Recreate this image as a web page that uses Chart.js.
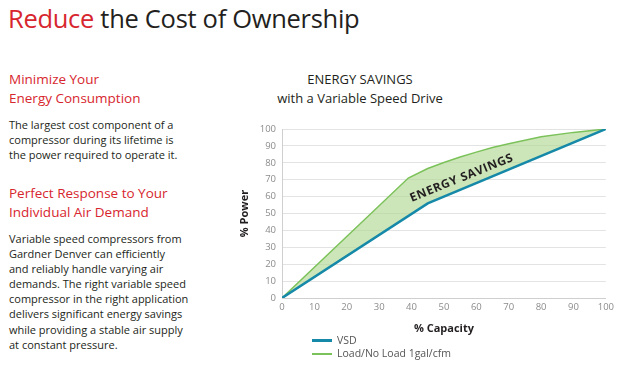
<!DOCTYPE html>
<html>
<head>
<meta charset="utf-8">
<script src="https://cdn.jsdelivr.net/npm/chart.js@4"></script>
<style>
  html, body { margin: 0; padding: 0; background: #fff; }
  body { width: 624px; height: 367px; position: relative; overflow: hidden; font-family: "Open Sans", sans-serif; color: #231f20; }
  .titulo { position: absolute; left: 8px; top: 1px; font-size: 25.5px; font-weight: 400; letter-spacing: -0.3px; white-space: nowrap; }
  .rojo { color: #d7262e; }
  .sub { position: absolute; left: 9px; font-size: 13.5px; line-height: 18.5px; color: #d7262e; white-space: nowrap; }
  .cuerpo { position: absolute; left: 9px; font-size: 11px; line-height: 15.1px; color: #231f20; white-space: nowrap; }
  .chart-titulo { position: absolute; left: 230px; width: 260px; top: 70px; text-align: center; font-size: 13px; line-height: 19px; color: #231f20; }
  #cajaGrafica { position: absolute; left: 228px; top: 115px; width: 390px; height: 220px; }
  .leyenda { position: absolute; left: 312px; top: 334px; font-size: 10.5px; color: #555; }
  .leyenda div { height: 13px; line-height: 13px; display: flex; align-items: center; }
  .leyenda span.linea { display: inline-block; width: 20px; margin-right: 5px; }
</style>
</head>
<body>
<div class="titulo"><span class="rojo">Reduce</span> the Cost of Ownership</div>

<div class="sub" style="top:70px">Minimize Your<br>Energy Consumption</div>
<div class="cuerpo" style="top:117px">The largest cost component of a<br>compressor during its lifetime is<br>the power required to operate it.</div>

<div class="sub" style="top:184px">Perfect Response to Your<br>Individual Air Demand</div>
<div class="cuerpo" style="top:231px">Variable speed compressors from<br>Gardner Denver can efficiently<br>and reliably handle varying air<br>demands. The right variable speed<br>compressor in the right application<br>delivers significant energy savings<br>while providing a stable air supply<br>at constant pressure.</div>

<div class="chart-titulo">ENERGY SAVINGS<br>with a Variable Speed Drive</div>

<div id="cajaGrafica"><canvas id="graficaAhorro"></canvas></div>
<div class="leyenda" id="leyenda"></div>

<script>
// datos
const ticksCapacidad = [0, 10, 20, 30, 40, 50, 60, 70, 80, 90, 100];
const ticksPotencia = [0, 10, 20, 30, 40, 50, 60, 70, 80, 90, 100];

const vsdCapacidad = [0, 45, 100];
const vsdPotencia = [0, 56, 100];

const cargaCapacidad = [0, 39, 45, 50, 55, 60, 65, 70, 80, 90, 100];
const cargaPotencia = [0, 71, 76.6, 80.2, 83.4, 86.3, 89, 91.3, 95.4, 98, 100];

const etiquetas = ['VSD', 'Load/No Load 1gal/cfm'];
const colores = ['#1689a8', '#7cc25a'];
const relleno = 'rgba(176, 216, 148, 0.65)';

const colorTicks = '#8c8c8c';

// etiqueta "ENERGY SAVINGS" dentro de la zona sombreada
const etiquetaAhorro = {
    id: 'etiquetaAhorro',
    afterDatasetsDraw(chart) {
        const ctx = chart.ctx;
        const x = chart.scales.x.getPixelForValue(55.5);
        const y = chart.scales.y.getPixelForValue(71);
        ctx.save();
        ctx.translate(x, y);
        ctx.rotate(-22 * Math.PI / 180);
        ctx.font = 'bold 12px "Open Sans"';
        ctx.fillStyle = '#231f20';
        ctx.textAlign = 'center';
        ctx.textBaseline = 'middle';
        if ('letterSpacing' in ctx) ctx.letterSpacing = '0.6px';
        ctx.fillText('ENERGY SAVINGS', 0, 0);
        ctx.restore();
    }
};

const aPuntos = (xs, ys) => xs.map((x, i) => ({ x: x, y: ys[i] }));

new Chart(document.getElementById('graficaAhorro'), {
    type: 'line',
    data: {
        datasets: [
            {
                label: etiquetas[0],
                data: aPuntos(vsdCapacidad, vsdPotencia),
                borderColor: colores[0],
                borderWidth: 2.5,
                pointRadius: 0,
                fill: false
            },
            {
                label: etiquetas[1],
                data: aPuntos(cargaCapacidad, cargaPotencia),
                borderColor: colores[1],
                borderWidth: 1.5,
                pointRadius: 0,
                tension: 0,
                fill: { target: 0 },
                backgroundColor: relleno
            }
        ]
    },
    options: {
        responsive: true,
        maintainAspectRatio: false,
        animation: false,
        layout: { padding: { top: 14, right: 11, left: 0, bottom: 0 } },
        plugins: {
            legend: { display: false },
            tooltip: { enabled: false }
        },
        scales: {
            x: {
                type: 'linear',
                min: 0,
                max: 100,
                afterBuildTicks: s => { s.ticks = ticksCapacidad.map(v => ({ value: v })); },
                afterFit: s => { s.height = 37; },
                grid: { display: false, drawTicks: false },
                border: { color: '#cfcfcf', width: 1 },
                ticks: { color: colorTicks, font: { family: 'Open Sans', size: 9.5 }, padding: 4, maxRotation: 0 },
                title: { display: true, text: '% Capacity', color: '#231f20', font: { family: 'Open Sans', size: 11, weight: 'bold' }, padding: { top: 4, bottom: 0 } }
            },
            y: {
                min: 0,
                max: 100,
                afterBuildTicks: s => { s.ticks = ticksPotencia.map(v => ({ value: v })); },
                afterFit: s => { s.width = 54; },
                grid: { color: '#e3e3e3', lineWidth: 1, drawTicks: false },
                border: { color: '#cfcfcf', width: 1 },
                ticks: { color: colorTicks, font: { family: 'Open Sans', size: 9.5 }, padding: 6 },
                title: { display: true, text: '% Power', color: '#231f20', font: { family: 'Open Sans', size: 11, weight: 'bold' }, padding: { top: 10, bottom: 0 } }
            }
        }
    },
    plugins: [etiquetaAhorro]
});

// leyenda en html, vertical debajo del grafico
const leyenda = document.getElementById('leyenda');
const grosores = [3, 2];
etiquetas.forEach((texto, i) => {
    leyenda.innerHTML += `<div><span class="linea" style="height:${grosores[i]}px;background:${colores[i]}"></span>${texto}</div>`;
});
</script>
</body>
</html>
